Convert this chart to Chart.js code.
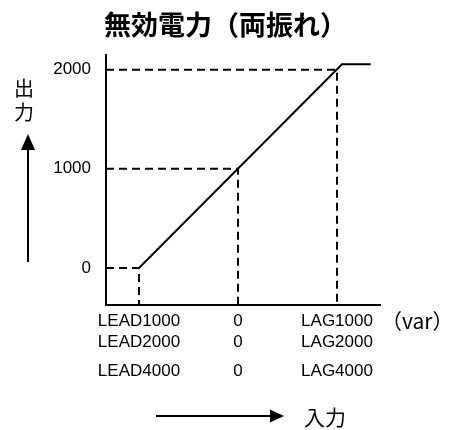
<!DOCTYPE html>
<html><head><meta charset="utf-8">
<script src="https://cdn.jsdelivr.net/npm/chart.js@4/dist/chart.umd.min.js"></script>
<style>html,body{margin:0;padding:0;background:#fff}#wrap{width:451px;height:430px}</style>
</head><body><div id="wrap"><canvas id="c" width="451" height="430"></canvas></div>
<script>
const titleText = '無効電力（両振れ）';
const yAxisLabel = ['出', '力'];
const xAxisLabel = '入力';
const xUnit = '（var）';
const xTickValues = [-1000, 0, 1000];
const xTickRow1 = ['LEAD1000', '0', 'LAG1000'];
const xTickRow2 = ['LEAD2000', '0', 'LAG2000'];
const xTickRow3 = ['LEAD4000', '0', 'LAG4000'];
const yTickValues = [0, 1000, 2000];
const curveX = [-1000, 1050, 1340];
const curveY = [0, 2055, 2055];
const guideX = [-1000, 0, 1000];
const guideY = [0, 1000, 2000];
const xMin = -1333, xMax = 1434, yMin = -374, yMax = 2151;

const tickFont = {family: '"Liberation Sans", Arial, sans-serif', size: 17, lineHeight: '21px'};
const jpFont = '"Noto Sans CJK JP", sans-serif';

const datasets = [];
guideX.forEach((gx, i) => {
  datasets.push({
    data: [{x: xMin, y: guideY[i]}, {x: gx, y: guideY[i]}, {x: gx, y: yMin}],
    showLine: true, borderColor: '#000', borderWidth: 2, borderDash: [8, 5],
    pointRadius: 0, fill: false
  });
});
datasets.push({
  data: curveX.map((x, i) => ({x, y: curveY[i]})),
  showLine: true, borderColor: '#000', borderWidth: 2, pointRadius: 0, fill: false
});

const annot = {
  id: 'annot',
  afterDraw(chart) {
    const ctx = chart.ctx;
    const ca = chart.chartArea;
    ctx.save();
    ctx.fillStyle = '#000';
    ctx.strokeStyle = '#000';
    ctx.lineWidth = 2;
    // y label stacked
    ctx.font = '20px ' + jpFont;
    ctx.textAlign = 'center';
    ctx.textBaseline = 'middle';
    ctx.fillText(yAxisLabel[0], 24, 88);
    ctx.fillText(yAxisLabel[1], 24, 112);
    // up arrow
    ctx.beginPath(); ctx.moveTo(28, 262); ctx.lineTo(28, 148); ctx.stroke();
    ctx.beginPath(); ctx.moveTo(28, 134); ctx.lineTo(21, 150); ctx.lineTo(35, 150); ctx.closePath(); ctx.fill();
    // unit
    ctx.font = '21px ' + jpFont;
    ctx.textAlign = 'left';
    ctx.fillText(xUnit, ca.right + 1, 321);
    // right arrow
    ctx.beginPath(); ctx.moveTo(156, 416); ctx.lineTo(272, 416); ctx.stroke();
    ctx.beginPath(); ctx.moveTo(284, 416); ctx.lineTo(270, 409.5); ctx.lineTo(270, 422.5); ctx.closePath(); ctx.fill();
    ctx.font = '21px ' + jpFont;
    ctx.fillText(xAxisLabel, 304, 417);
    ctx.restore();
  }
};

new Chart(document.getElementById('c'), {
  type: 'scatter',
  data: {datasets},
  plugins: [annot],
  options: {
    responsive: false, animation: false, devicePixelRatio: 1,
    layout: {padding: {left: 0, right: 0, top: 0, bottom: 37}},
    plugins: {
      legend: {display: false}, tooltip: {enabled: false},
      title: {display: true, text: titleText, color: '#000',
        font: {family: jpFont, size: 27, weight: 'bold', lineHeight: 1.1},
        padding: {top: 10, bottom: 15}}
    },
    scales: {
      x: {
        type: 'linear', position: 'bottom', min: xMin, max: xMax,
        grid: {display: false, drawTicks: false},
        border: {display: true, color: '#000', width: 2},
        afterBuildTicks: s => { s.ticks = xTickValues.map(v => ({value: v})); },
        ticks: {color: '#000', font: tickFont, padding: 6, maxRotation: 0, autoSkip: false,
          callback: (v, i) => [xTickRow1[i], xTickRow2[i]]},
        afterFit: s => { s.height = 48; }
      },
      x2: {
        type: 'linear', position: 'bottom', min: xMin, max: xMax,
        grid: {display: false, drawTicks: false},
        border: {display: false},
        afterBuildTicks: s => { s.ticks = xTickValues.map(v => ({value: v})); },
        ticks: {color: '#000', font: tickFont, padding: 8, maxRotation: 0, autoSkip: false,
          callback: (v, i) => xTickRow3[i]},
        afterFit: s => { s.height = 40; }
      },
      y: {
        type: 'linear', position: 'left', min: yMin, max: yMax,
        grid: {display: false, drawTicks: false},
        border: {display: true, color: '#000', width: 2},
        afterBuildTicks: s => { s.ticks = yTickValues.map(v => ({value: v})); },
        ticks: {color: '#000', font: tickFont, padding: 15, callback: v => String(v)},
        afterFit: s => { s.width = 106; }
      },
      yR: {
        type: 'linear', position: 'right', min: yMin, max: yMax,
        grid: {display: false, drawTicks: false},
        border: {display: false},
        ticks: {display: false},
        afterFit: s => { s.width = 71; }
      }
    }
  }
});
</script></body></html>
